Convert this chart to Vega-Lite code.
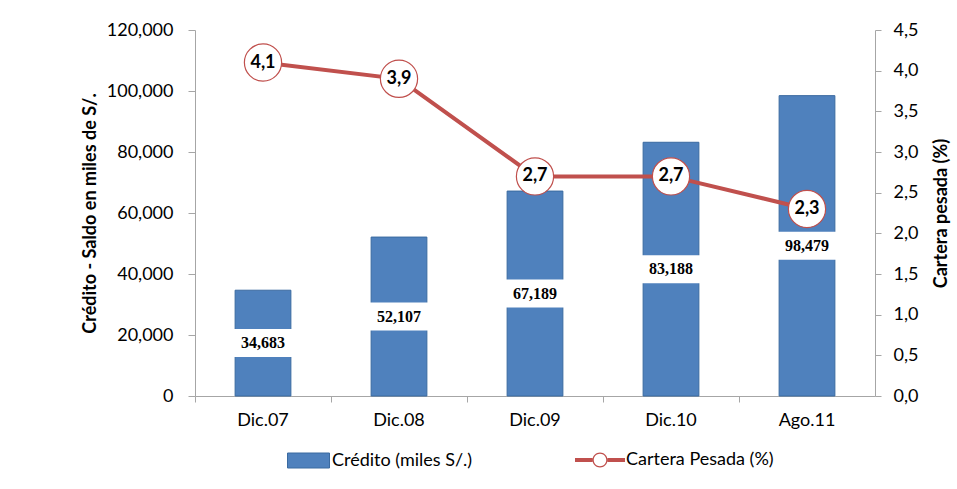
{
  "$schema": "https://vega.github.io/schema/vega-lite/v6.json",
  "width": 680,
  "height": 366,
  "autosize": {"type": "none"},
  "padding": {"left": 195, "top": 30, "right": 82, "bottom": 93},
  "background": "white",
  "config": {
    "font": "Lato",
    "view": {"stroke": null},
    "locale": {"number": {"decimal": ",", "thousands": ",", "grouping": [3], "currency": ["", ""]}},
    "axis": {
      "labelFont": "Lato", "labelFontSize": 18, "labelColor": "#000000",
      "titleFont": "Lato", "titleFontSize": 18, "titleFontWeight": "bold", "titleColor": "#000000",
      "domainColor": "#A6A6A6", "tickColor": "#A6A6A6", "grid": false
    },
    "legend": {"labelFont": "Lato", "labelFontSize": 18, "labelColor": "#000000"}
  },
  "data": {
    "values": [
      {"periodo": "Dic.07", "credito": 34683, "cartera": 4.1},
      {"periodo": "Dic.08", "credito": 52107, "cartera": 3.9},
      {"periodo": "Dic.09", "credito": 67189, "cartera": 2.7},
      {"periodo": "Dic.10", "credito": 83188, "cartera": 2.7},
      {"periodo": "Ago.11", "credito": 98479, "cartera": 2.3}
    ]
  },
  "encoding": {
    "x": {
      "field": "periodo", "type": "nominal", "sort": null,
      "scale": {"paddingInner": 0, "paddingOuter": 0},
      "axis": {"title": null, "labelAngle": 0, "bandPosition": 0, "tickSize": 6, "labelPadding": 9, "domainColor": "#A6A6A6"}
    }
  },
  "layer": [
    {
      "mark": {"type": "bar", "width": {"band": 0.41}, "stroke": "#3A6AA0", "strokeWidth": 1},
      "encoding": {
        "y": {
          "field": "credito", "type": "quantitative",
          "scale": {"domain": [0, 120000], "nice": false},
          "axis": {
            "orient": "left", "title": "Crédito - Saldo en miles de S/.",
            "values": [0, 20000, 40000, 60000, 80000, 100000, 120000],
            "format": ",.0f", "tickSize": 7, "labelPadding": 15, "titlePadding": 7
          }
        },
        "fill": {
          "datum": "Crédito (miles S/.)", "type": "nominal",
          "scale": {"domain": ["Crédito (miles S/.)"], "range": ["#4F81BD"]},
          "legend": {
            "orient": "none", "legendX": 88, "legendY": 405, "title": null,
            "symbolSize": 2500, "labelOffset": -2,
            "symbolType": "M-0.84,-0.3H0.84V0.3H-0.84Z",
            "symbolStrokeColor": "#3A6AA0", "symbolStrokeWidth": 1
          }
        }
      }
    },
    {
      "mark": {"type": "tick", "color": "white", "opacity": 1, "size": 58, "thickness": 28},
      "encoding": {
        "y": {"field": "credito", "type": "quantitative", "scale": {"domain": [0, 240000], "nice": false}, "axis": null}
      }
    },
    {
      "mark": {"type": "text", "font": "Liberation Serif", "fontWeight": "bold", "fontSize": 16, "color": "#000000", "baseline": "middle"},
      "encoding": {
        "y": {"field": "credito", "type": "quantitative", "scale": {"domain": [0, 240000], "nice": false}, "axis": null},
        "text": {"field": "credito", "type": "quantitative", "format": ",.0f"}
      }
    },
    {
      "mark": {"type": "line", "strokeWidth": 4},
      "encoding": {
        "y": {
          "field": "cartera", "type": "quantitative",
          "scale": {"domain": [0, 4.5], "nice": false},
          "axis": {
            "orient": "right", "title": "Cartera pesada (%)", "titleAngle": 270,
            "values": [0, 0.5, 1, 1.5, 2, 2.5, 3, 3.5, 4, 4.5],
            "format": ".1f", "tickSize": 6, "labelPadding": 12, "titlePadding": 33
          }
        },
        "stroke": {
          "datum": "Cartera Pesada (%)", "type": "nominal",
          "scale": {"domain": ["Cartera Pesada (%)"], "range": ["#C0504D"]},
          "legend": {
            "orient": "none", "legendX": 380, "legendY": 405, "title": null,
            "symbolSize": 2500, "labelOffset": 1,
            "symbolType": "M-1,-0.08H-0.3V0.08H-1Z M0.3,-0.08H1V0.08H0.3Z M0.3,0A0.3,0.3 0 1,1 -0.3,0A0.3,0.3 0 1,1 0.3,0Z M0.25,0A0.25,0.25 0 1,0 -0.25,0A0.25,0.25 0 1,0 0.25,0Z",
            "symbolFillColor": "#C0504D", "symbolStrokeWidth": 0
          }
        }
      }
    },
    {
      "mark": {"type": "point", "shape": "circle", "filled": true, "fill": "white", "stroke": "#C0504D", "strokeWidth": 1.2, "size": 1385, "opacity": 1},
      "encoding": {
        "y": {"field": "cartera", "type": "quantitative", "scale": {"domain": [0, 4.5], "nice": false}, "axis": null}
      }
    },
    {
      "mark": {"type": "text", "fontWeight": "bold", "fontSize": 18, "color": "#000000", "baseline": "middle"},
      "encoding": {
        "y": {"field": "cartera", "type": "quantitative", "scale": {"domain": [0, 4.5], "nice": false}, "axis": null},
        "text": {"field": "cartera", "type": "quantitative", "format": ".1f"}
      }
    }
  ],
  "resolve": {"scale": {"y": "independent"}}
}
